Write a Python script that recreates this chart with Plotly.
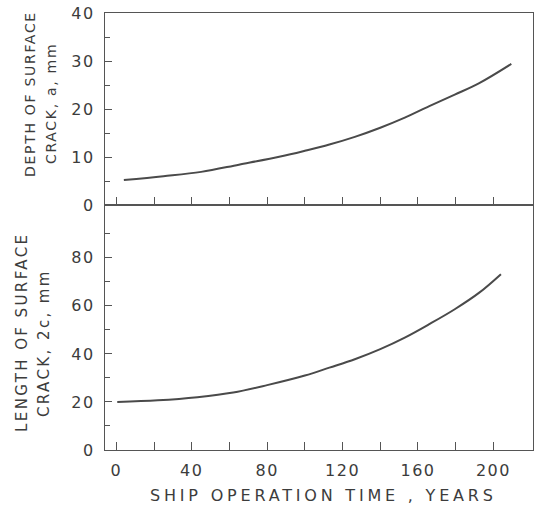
import plotly.graph_objects as go
from plotly.subplots import make_subplots

# Data
t_depth = [4, 25, 45, 65, 87, 100, 113, 126.5, 140, 153, 166, 179.5, 192.5, 209.5]
depth_a = [5.2, 6.0, 6.9, 8.4, 10.1, 11.3, 12.6, 14.2, 16.1, 18.2, 20.6, 23.0, 25.4, 29.4]

t_length = [0.5, 22, 43, 62, 80, 100, 113, 126.5, 140, 153, 166, 179.5, 192.5, 204]
length_2c = [20.0, 20.7, 22.0, 23.9, 27.0, 31.0, 34.3, 37.8, 42.0, 46.8, 52.4, 58.6, 65.5, 73.2]

x_ticks = [0, 40, 80, 120, 160, 200]
x_minor = [20, 60, 100, 140, 180]
depth_ticks = [0, 10, 20, 30, 40]
depth_minor = [5, 15, 25, 35]
length_ticks = [0, 20, 40, 60, 80]
length_minor = [10, 30, 50, 70, 90]

INK = "#3c3c3c"
AX = "#555555"
FONT = "DejaVu Sans"

W, H = 539, 511
L, R, T, B = 105, 6, 13, 61
plot_w = W - L - R
plot_h = H - T - B
split = 245 / plot_h


def spaced(s, sp):
    return f'<span style="letter-spacing:{sp}px">{s}</span>'


fig = make_subplots(rows=2, cols=1, shared_xaxes=False, vertical_spacing=0)

fig.add_trace(go.Scatter(x=t_depth, y=depth_a, mode="lines",
                         line=dict(color="#4a4a4a", width=2, shape="spline")),
              row=1, col=1)
fig.add_trace(go.Scatter(x=t_length, y=length_2c, mode="lines",
                         line=dict(color="#4a4a4a", width=2, shape="spline")),
              row=2, col=1)

common_x = dict(range=[-6, 221], showgrid=False, zeroline=False, automargin=False,
                showline=True, linecolor=AX, linewidth=1.2, mirror=True,
                ticks="inside", ticklen=8, tickcolor=AX, tickwidth=1,
                tickmode="array", tickvals=x_ticks,
                minor=dict(tickmode="array", tickvals=x_minor, ticks="inside",
                           ticklen=8, tickcolor=AX, tickwidth=1))
fig.update_xaxes(**common_x, row=1, col=1)
fig.update_xaxes(**common_x, row=2, col=1)
fig.update_xaxes(showticklabels=False, row=1, col=1)
fig.update_xaxes(ticktext=[spaced(v, 1.5) for v in x_ticks], ticklabelstandoff=6,
                 tickfont=dict(family=FONT, size=16, color=INK), row=2, col=1)

common_y = dict(showgrid=False, zeroline=False, showline=True, linecolor=AX,
                linewidth=1.2, mirror=True, ticks="inside", ticklen=7, automargin=False,
                tickcolor=AX, tickwidth=1, ticklabelstandoff=6, tickmode="array",
                tickfont=dict(family=FONT, size=16, color=INK))
fig.update_yaxes(**common_y, range=[0, 40], tickvals=depth_ticks,
                 ticktext=[spaced(v, 1.5) for v in depth_ticks],
                 minor=dict(tickmode="array", tickvals=depth_minor, ticks="inside",
                            ticklen=5, tickcolor=AX, tickwidth=1),
                 row=1, col=1)
fig.update_yaxes(**common_y, range=[0, 102], tickvals=length_ticks,
                 ticktext=[spaced(v, 1.5) for v in length_ticks],
                 minor=dict(tickmode="array", tickvals=length_minor, ticks="inside",
                            ticklen=5, tickcolor=AX, tickwidth=1),
                 row=2, col=1)

fig.update_layout(yaxis=dict(domain=[split, 1]), yaxis2=dict(domain=[0, split]))


def px_to_paper(px, py):
    return (px - L) / plot_w, (H - B - py) / plot_h


annots = [
    ("DEPTH OF SURFACE", 30, 94, 14, 1.7, -90),
    ("CRACK, a, mm", 51, 104, 14, 1.7, -90),
    ("LENGTH OF SURFACE", 22, 333, 15, 2.4, -90),
    ("CRACK, 2c, mm", 44, 343, 15, 2.4, -90),
    ("SHIP OPERATION TIME , YEARS", 323, 495, 16, 3.8, 0),
]
for text, px, py, size, sp, ang in annots:
    xp, yp = px_to_paper(px, py)
    fig.add_annotation(text=spaced(text, sp), x=xp, y=yp, xref="paper", yref="paper",
                       xanchor="center", yanchor="middle", showarrow=False,
                       textangle=ang, font=dict(family=FONT, size=size, color=INK))

fig.update_layout(width=W, height=H, margin=dict(l=L, r=R, t=T, b=B, autoexpand=False),
                  plot_bgcolor="white", paper_bgcolor="white", showlegend=False)

fig.write_html("out.html", config={"displayModeBar": False},
               post_script="document.body.style.margin='0';document.body.style.overflow='hidden';")
